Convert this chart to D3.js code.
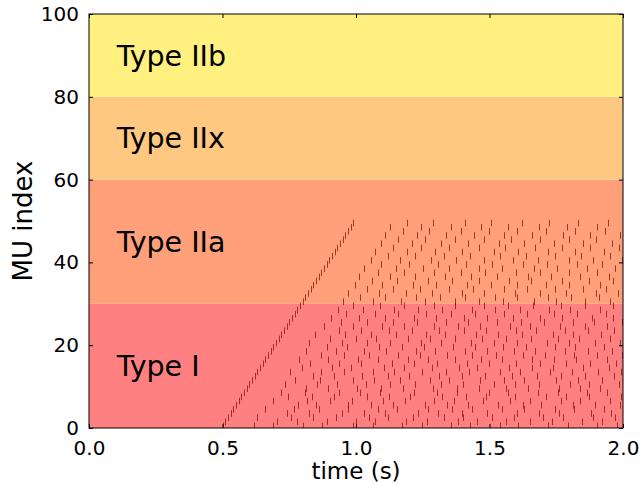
<!doctype html>
<html>
<meta charset="utf-8">
<style>
body { margin: 0; padding: 0; background: #fff; }
text { font-family: 'DejaVu Sans', sans-serif; fill: #000; }
</style>
<body>
<svg width="643" height="486"></svg>
<script src="https://d3js.org/d3.v7.min.js"></script>
<script>

// fibre type bands (MU index ranges) and their colours
var bandNames  = ["Type I", "Type IIa", "Type IIx", "Type IIb"];
var bandFrom   = [0, 30, 60, 80];
var bandTo     = [30, 60, 80, 100];
var bandLabelY = [15, 45, 70, 90];
var bandColors = ["#ff8080", "#ffa07a", "#ffc880", "#fff080"];

var xTicks = [0, 0.5, 1.0, 1.5, 2.0];
var yTicks = [0, 20, 40, 60, 80, 100];

// spike times (ms) for each recruited motor unit, index = MU
var spikes = [
  [500, 618, 690, 801, 873, 990, 1062, 1171, 1248, 1355, 1427, 1539, 1606, 1720, 1795, 1901, 1978],
  [510, 705, 779, 892, 1001, 1070, 1189, 1265, 1383, 1452, 1560, 1651, 1733, 1848, 1922],
  [520, 631, 757, 838, 926, 1047, 1119, 1214, 1330, 1402, 1511, 1590, 1701, 1774, 1887, 1969],
  [530, 742, 823, 946, 1029, 1108, 1231, 1306, 1397, 1490, 1603, 1684, 1762, 1880, 1955],
  [540, 660, 768, 861, 969, 1082, 1153, 1270, 1361, 1436, 1546, 1631, 1744, 1817, 1929],
  [550, 781, 850, 971, 1055, 1137, 1258, 1342, 1419, 1530, 1625, 1693, 1811, 1897, 1990],
  [560, 690, 817, 902, 985, 1102, 1183, 1293, 1368, 1474, 1577, 1650, 1769, 1838, 1952],
  [570, 744, 834, 918, 1041, 1125, 1204, 1323, 1411, 1488, 1597, 1712, 1786, 1871, 1994],
  [580, 720, 808, 937, 1016, 1089, 1216, 1303, 1377, 1498, 1569, 1680, 1757, 1866, 1940],
  [590, 812, 895, 1004, 1092, 1175, 1289, 1379, 1460, 1562, 1643, 1759, 1840, 1914],
  [600, 734, 855, 929, 1039, 1128, 1221, 1319, 1399, 1518, 1594, 1687, 1802, 1873, 1985],
  [610, 771, 866, 990, 1068, 1166, 1279, 1350, 1463, 1555, 1629, 1748, 1833, 1921],
  [620, 840, 918, 1023, 1121, 1197, 1311, 1397, 1482, 1584, 1677, 1766, 1859, 1968],
  [630, 752, 870, 956, 1063, 1142, 1248, 1338, 1425, 1541, 1614, 1728, 1809, 1905, 1991],
  [640, 798, 909, 980, 1103, 1181, 1283, 1384, 1453, 1572, 1660, 1737, 1850, 1947],
  [650, 829, 937, 1018, 1136, 1219, 1302, 1417, 1497, 1601, 1691, 1786, 1877, 1973],
  [660, 786, 894, 1009, 1081, 1193, 1271, 1371, 1469, 1546, 1658, 1740, 1825, 1939],
  [670, 869, 955, 1049, 1158, 1238, 1339, 1436, 1523, 1627, 1709, 1815, 1901, 1996],
  [680, 812, 926, 1030, 1112, 1224, 1296, 1408, 1490, 1593, 1669, 1781, 1868, 1958],
  [690, 891, 967, 1085, 1172, 1256, 1364, 1446, 1552, 1636, 1744, 1822, 1929],
  [700, 823, 946, 1041, 1129, 1244, 1318, 1429, 1517, 1604, 1715, 1797, 1894, 1987],
  [710, 902, 1001, 1076, 1195, 1276, 1372, 1473, 1560, 1655, 1758, 1837, 1951],
  [720, 848, 960, 1058, 1150, 1262, 1334, 1451, 1533, 1623, 1736, 1814, 1919],
  [730, 935, 1019, 1124, 1211, 1309, 1404, 1486, 1598, 1676, 1783, 1870, 1966],
  [740, 879, 990, 1097, 1178, 1291, 1381, 1465, 1578, 1651, 1764, 1858, 1939],
  [750, 943, 1040, 1140, 1230, 1337, 1418, 1527, 1619, 1703, 1812, 1893, 1998],
  [760, 905, 1011, 1108, 1216, 1299, 1405, 1491, 1589, 1688, 1770, 1884, 1962],
  [770, 964, 1073, 1156, 1263, 1354, 1447, 1556, 1641, 1741, 1829, 1937],
  [780, 934, 1028, 1143, 1232, 1323, 1434, 1519, 1615, 1722, 1801, 1914],
  [790, 988, 1089, 1181, 1291, 1372, 1478, 1571, 1664, 1769, 1857, 1961],
  [800, 951, 1062, 1170, 1258, 1369, 1462, 1550, 1667, 1748, 1856, 1952],
  [810, 1016, 1107, 1224, 1313, 1410, 1521, 1603, 1718, 1805, 1909],
  [820, 969, 1085, 1187, 1284, 1398, 1481, 1597, 1689, 1785, 1898, 1983],
  [830, 1040, 1138, 1241, 1350, 1439, 1553, 1640, 1746, 1852, 1938],
  [840, 995, 1097, 1212, 1301, 1416, 1507, 1603, 1713, 1796, 1912],
  [850, 1061, 1153, 1268, 1361, 1459, 1572, 1657, 1770, 1872, 1963],
  [860, 1012, 1128, 1222, 1335, 1431, 1527, 1645, 1731, 1840, 1949],
  [870, 1084, 1180, 1291, 1392, 1485, 1601, 1688, 1799, 1904],
  [880, 1031, 1149, 1250, 1347, 1462, 1548, 1666, 1753, 1866, 1970],
  [890, 1095, 1199, 1306, 1413, 1509, 1624, 1714, 1828, 1922],
  [900, 1058, 1163, 1281, 1373, 1480, 1589, 1683, 1797, 1889, 1996],
  [910, 1119, 1221, 1330, 1427, 1539, 1637, 1745, 1844, 1951],
  [920, 1072, 1190, 1295, 1396, 1515, 1607, 1718, 1820, 1929],
  [930, 1140, 1244, 1349, 1459, 1558, 1669, 1771, 1877, 1984],
  [940, 1093, 1208, 1319, 1418, 1534, 1631, 1740, 1852, 1957],
  [950, 1158, 1257, 1369, 1478, 1580, 1689, 1798, 1899],
  [960, 1108, 1229, 1337, 1443, 1554, 1660, 1774, 1875, 1987],
  [970, 1176, 1273, 1392, 1497, 1602, 1713, 1820, 1931],
  [980, 1129, 1245, 1356, 1468, 1571, 1685, 1792, 1903],
  [990, 1191, 1290, 1408, 1506, 1621, 1724, 1832, 1945]
];

var svg = d3.select("svg"),
    margin = {top: 14, right: 20, bottom: 58, left: 89},
    width = +svg.attr("width") - margin.left - margin.right,
    height = +svg.attr("height") - margin.top - margin.bottom,
    g = svg.append("g").attr("transform", "translate(" + margin.left + "," + margin.top + ")");

var x = d3.scaleLinear().domain([0, 2]).range([0, width]);
var y = d3.scaleLinear().domain([0, 100]).range([height, 0]);

// background bands
g.selectAll("rect.band")
  .data(bandNames)
  .enter().append("rect")
    .attr("class", "band")
    .attr("x", 0)
    .attr("width", width)
    .attr("y", function(d, i) { return y(bandTo[i]); })
    .attr("height", function(d, i) { return y(bandFrom[i]) - y(bandTo[i]); })
    .style("fill", function(d, i) { return bandColors[i]; });

g.selectAll("text.band")
  .data(bandNames)
  .enter().append("text")
    .attr("class", "band")
    .attr("x", x(0.1) + 1)
    .attr("y", function(d, i) { return y(bandLabelY[i]); })
    .attr("dy", "0.36em")
    .style("font-size", "28.5px")
    .text(function(d) { return d; });

// flatten spike trains into (mu, t) pairs
var events = [];
spikes.forEach(function(train, mu) {
  train.forEach(function(t) { events.push({mu: mu, t: t / 1000}); });
});

g.append("clipPath").attr("id", "plotclip")
  .append("rect").attr("width", width).attr("height", height);

g.append("g")
    .attr("clip-path", "url(#plotclip)")
  .selectAll("line")
  .data(events)
  .enter().append("line")
    .attr("x1", function(d) { return Math.round(x(d.t)) + 0.5; })
    .attr("x2", function(d) { return Math.round(x(d.t)) + 0.5; })
    .attr("y1", function(d) { return y(d.mu - 0.3); })
    .attr("y2", function(d) { return y(d.mu + 1.3); })
    .style("stroke", "#8b0000")
    .style("stroke-opacity", 0.7)
    .style("stroke-width", 1);

// axes, ticks pointing inwards on all four sides
var fmtX = d3.format(".1f");
g.append("g")
    .attr("transform", "translate(0," + height + ")")
    .call(d3.axisBottom(x).tickValues(xTicks).tickFormat(fmtX).tickSizeInner(-4).tickSizeOuter(0).tickPadding(13));
g.append("g")
    .call(d3.axisTop(x).tickValues(xTicks).tickFormat("").tickSizeInner(-4).tickSizeOuter(0));
g.append("g")
    .call(d3.axisLeft(y).tickValues(yTicks).tickSizeInner(-4).tickSizeOuter(0).tickPadding(10));
g.append("g")
    .attr("transform", "translate(" + width + ",0)")
    .call(d3.axisRight(y).tickValues(yTicks).tickFormat("").tickSizeInner(-4).tickSizeOuter(0));

g.selectAll(".tick text").style("font-size", "20px").style("font-family", "'DejaVu Sans', sans-serif");
g.selectAll(".domain").remove();

g.append("rect")
    .attr("width", width)
    .attr("height", height)
    .style("fill", "none")
    .style("stroke", "#000")
    .style("stroke-width", 1);

svg.append("text")
    .attr("x", margin.left + width / 2)
    .attr("y", 479)
    .attr("text-anchor", "middle")
    .style("font-size", "23px")
    .text("time (s)");

svg.append("text")
    .attr("transform", "translate(32," + (margin.top + height / 2) + ") rotate(-90)")
    .attr("text-anchor", "middle")
    .style("font-size", "26px")
    .text("MU index");

</script>
</body>
</html>
